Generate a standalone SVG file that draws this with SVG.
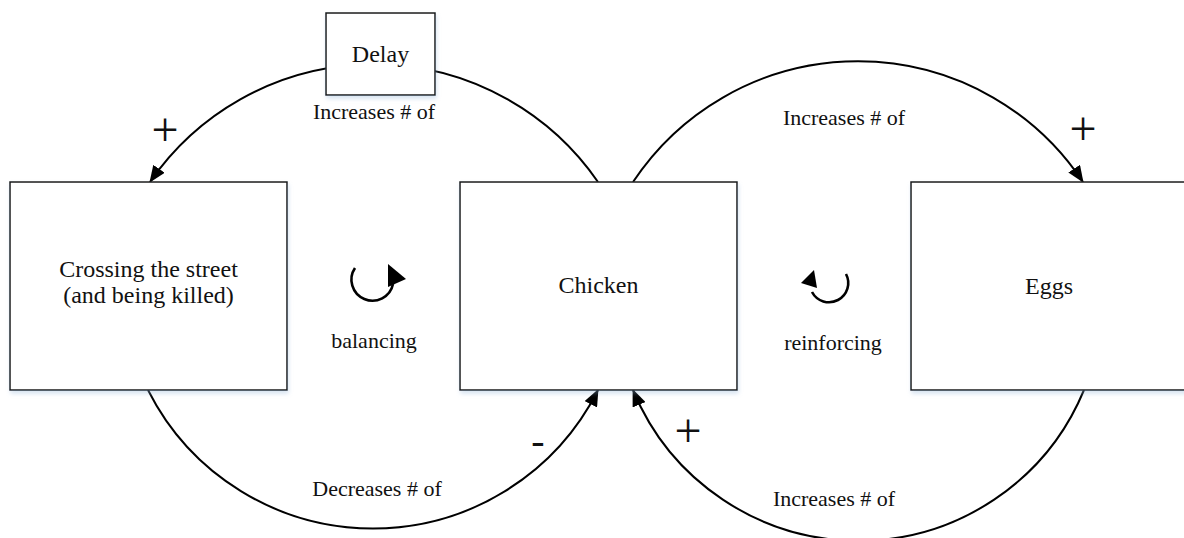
<svg xmlns="http://www.w3.org/2000/svg" width="1184" height="538" viewBox="0 0 1184 538">
  <style>
    .box { fill: #ffffff; stroke: #1a1a1a; stroke-width: 1.5; filter: url(#shade); }
    .node-text { font-family: "Liberation Serif", "Times New Roman", serif; font-size: 24px; fill: #111; text-anchor: middle; }
    .label { font-family: "Liberation Serif", "Times New Roman", serif; font-size: 22px; fill: #111; text-anchor: middle; }
    .sign { font-family: "Liberation Serif", "Times New Roman", serif; font-size: 48px; fill: #111; text-anchor: middle; }
    .link { fill: none; stroke: #000; stroke-width: 2; }
    .loop { fill: none; stroke: #000; stroke-width: 2.6; }
  </style>
  <defs>
    <filter id="shade" x="-5%" y="-5%" width="115%" height="115%">
      <feDropShadow dx="1" dy="3" stdDeviation="2" flood-color="#8fb0d8" flood-opacity="0.35"/>
    </filter>
    <marker id="arrow" markerUnits="userSpaceOnUse" markerWidth="17" markerHeight="14" refX="16" refY="7" orient="auto">
      <path d="M0,0 L17,7 L0,14 z" fill="#000"/>
    </marker>
  </defs>

  <rect width="1184" height="538" fill="#ffffff"/>

  <!-- causal links -->
  <g id="connectors">
    <!-- Chicken -> Crossing the street (via Delay) -->
    <path class="link" d="M598,182 A272,272 0 0,0 150,182" marker-end="url(#arrow)"/>
    <!-- Chicken -> Eggs -->
    <path class="link" d="M633,182 A270,270 0 0,1 1083,182" marker-end="url(#arrow)"/>
    <!-- Crossing the street -> Chicken -->
    <path class="link" d="M148,390 A252,252 0 0,0 598,390" marker-end="url(#arrow)"/>
    <!-- Eggs -> Chicken -->
    <path class="link" d="M1084,390 A244,244 0 0,1 633,390" marker-end="url(#arrow)"/>
  </g>

  <g id="node-delay">
    <rect class="box" x="326" y="13" width="109" height="82"/>
    <text class="node-text" x="380.5" y="62">Delay</text>
  </g>

  <g id="node-crossing">
    <rect class="box" x="10" y="182" width="277" height="208"/>
    <text class="node-text" x="148.5" y="277">Crossing the street</text>
    <text class="node-text" x="148.5" y="303">(and being killed)</text>
  </g>

  <g id="node-chicken">
    <rect class="box" x="460" y="182" width="277" height="208"/>
    <text class="node-text" x="598.5" y="293">Chicken</text>
  </g>

  <g id="node-eggs">
    <rect class="box" x="911" y="182" width="277" height="208"/>
    <text class="node-text" x="1049" y="294">Eggs</text>
  </g>

  <!-- link labels and polarities -->
  <g id="labels">
    <text class="label" x="374" y="119">Increases # of</text>
    <text class="label" x="844" y="125">Increases # of</text>
    <text class="label" x="377" y="496">Decreases # of</text>
    <text class="label" x="834" y="506">Increases # of</text>
    <text class="sign" x="165" y="146">+</text>
    <text class="sign" x="1083" y="145">+</text>
    <text class="sign" x="688" y="447">+</text>
    <text class="sign" x="538" y="454" style="font-size:40px">-</text>
  </g>

  <!-- loop type markers -->
  <g id="loop-balancing">
    <path class="loop" d="M355,268 A21,21 0 1,0 393,284"/>
    <polygon points="388,264 406,279 388,287" fill="#000"/>
    <text class="label" x="374" y="348">balancing</text>
  </g>

  <g id="loop-reinforcing">
    <path class="loop" d="M846,274 A18,18 0 1,1 812,292"/>
    <polygon points="814,270 801,283 817,288" fill="#000"/>
    <text class="label" x="833" y="350">reinforcing</text>
  </g>
</svg>
